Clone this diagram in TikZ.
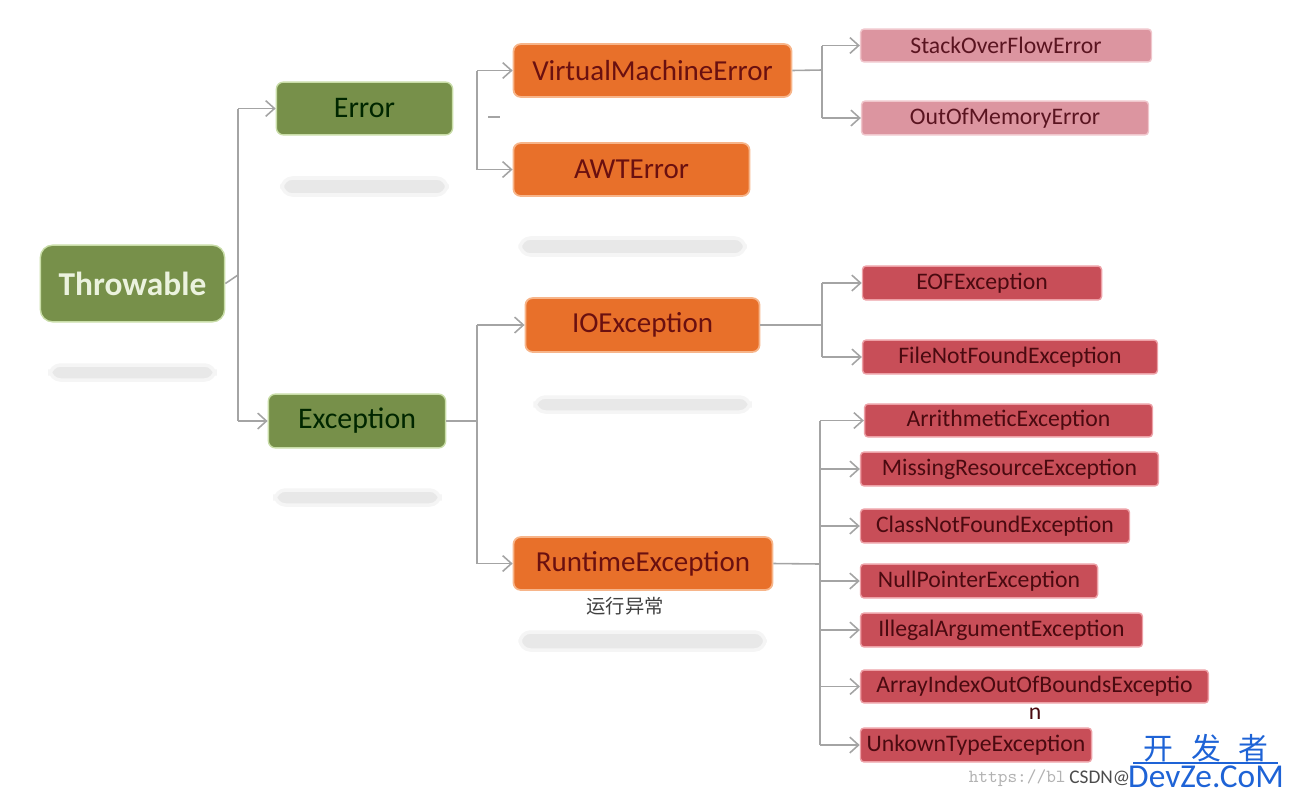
\documentclass[tikz,border=0pt]{standalone}
\usepackage{fontspec}
\setmainfont{Carlito}
\newfontfamily\cjk{Noto Sans CJK SC}
\usetikzlibrary{arrows.meta}
\definecolor{gfill}{HTML}{77904A}
\definecolor{gedge}{HTML}{C9DDA8}
\definecolor{ofill}{HTML}{E8702A}
\definecolor{oedge}{HTML}{F7B58A}
\definecolor{otext}{HTML}{6A1010}
\definecolor{pfill}{HTML}{DC95A0}
\definecolor{pedge}{HTML}{F0C6CC}
\definecolor{ptext}{HTML}{5A1420}
\definecolor{rfill}{HTML}{C84E58}
\definecolor{redge}{HTML}{EDA0A6}
\definecolor{rtext}{HTML}{4A0A10}
\definecolor{lcol}{HTML}{A4A4A4}
\definecolor{wblue}{HTML}{1E63D6}
\newcommand\bx[7]{\node[#6, minimum width={(#4-#2)*0.567pt}, minimum height={(#5-#3)*0.567pt}] (#1) at ({(#2+#4)/2},{(#3+#5)/2}) {#7};}
\tikzset{
  gbox/.style={fill=gfill, draw=gedge, line width=0.8pt, rounded corners=4pt, inner sep=0pt, text=black!85!green, font=\fontsize{17}{20}\selectfont},
  tbox/.style={gbox, rounded corners=7pt, text={rgb,255:red,235;green,242;blue,222}, font=\bfseries\fontsize{19}{22}\selectfont},
  obox/.style={fill=ofill, draw=oedge, line width=1pt, rounded corners=4pt, inner sep=0pt, text=otext, font=\fontsize{16.5}{20}\selectfont},
  pbox/.style={fill=pfill, draw=pedge, line width=0.8pt, rounded corners=2pt, inner sep=0pt, text=ptext, font=\fontsize{13.5}{16}\selectfont},
  rbox/.style={fill=rfill, draw=redge, line width=0.8pt, rounded corners=2pt, inner sep=0pt, text=rtext, font=\fontsize{13.5}{16}\selectfont},
  conn/.style={draw=lcol, line width=0.9pt},
  arr/.style={conn, -{Straight Barb[length=5pt,width=9pt]}},
  shade/.style={fill=black!9, draw=black!4, line width=2pt, rounded corners=6pt},
}
\begin{document}
\begin{tikzpicture}[x=0.02cm, y=-0.02cm]
\useasboundingbox (0,0) rectangle (1290,798);
% faint shadow bars
\path[shade] (50,365) rectangle (215,380);
\path[shade] (282,178) rectangle (447,195);
\path[shade] (520,238) rectangle (745,255);
\path[shade] (535,397) rectangle (750,412);
\path[shade] (275,490) rectangle (440,505);
\path[shade] (520,632) rectangle (765,650);
% nodes
\bx{thr}{40}{245}{225}{322}{tbox}{Throwable}
\bx{err}{276}{82}{453}{135}{gbox}{Error}
\bx{exc}{268}{394}{446}{448}{gbox}{Exception}
\bx{vme}{513}{44}{792}{97}{obox}{VirtualMachineError}
\bx{awt}{513}{143}{750}{196}{obox}{AWTError}
\bx{ioe}{525}{298}{760}{352}{obox}{IOException}
\bx{rte}{513}{537}{773}{590}{obox}{RuntimeException}
\bx{soe}{860}{29}{1152}{62}{pbox}{StackOverFlowError}
\bx{oom}{861}{101}{1149}{135}{pbox}{OutOfMemoryError}
\bx{eof}{862}{266}{1102}{300}{rbox}{EOFException}
\bx{fnf}{862}{340}{1158}{374}{rbox}{FileNotFoundException}
\bx{ari}{864}{404}{1153}{437}{rbox}{ArrithmeticException}
\bx{mis}{860}{452}{1159}{486}{rbox}{MissingResourceException}
\bx{cnf}{860}{509}{1130}{543}{rbox}{ClassNotFoundException}
\bx{npe}{860}{564}{1098}{598}{rbox}{NullPointerException}
\bx{iae}{860}{613}{1143}{647}{rbox}{IllegalArgumentException}
\bx{aio}{860}{670}{1209}{703}{rbox}{ArrayIndexOutOfBoundsExceptio}
\bx{ute}{860}{728}{1092}{762}{rbox}{UnkownTypeException}
\node[text=rtext, font=\fontsize{13.5}{16}\selectfont, inner sep=0pt] (nch) at (1035,714) {n};
\node[text=black!75, font=\cjk\fontsize{11}{13}\selectfont, inner sep=0pt] (cn) at (625,606) {运行异常};
% connectors: Throwable
\draw[conn] (thr.east) -- (238,275) coordinate (tj);
\draw[conn] (err.west -| tj) -- (exc.west -| tj);
\draw[arr] (err.west -| tj) -- (err.west);
\draw[arr] (exc.west -| tj) -- (exc.west);
% Error children
\coordinate (ej) at (477,117);
\draw[conn] (vme.west -| ej) -- (awt.west -| ej);
\draw[arr] (vme.west -| ej) -- (vme.west);
\draw[arr] (awt.west -| ej) -- (awt.west);
\draw[conn] (488,117) coordinate (d1) -- (500,117) coordinate (d2);
% VM children
\draw[conn] (vme.east) -- (822,70) coordinate (vj);
\draw[conn] (soe.west -| vj) -- (oom.west -| vj);
\draw[arr] (soe.west -| vj) -- (soe.west);
\draw[arr] (oom.west -| vj) -- (oom.west);
% Exception children
\draw[conn] (exc.east) -- (477,421) coordinate (xj);
\draw[conn] (ioe.west -| xj) -- (rte.west -| xj);
\draw[arr] (ioe.west -| xj) -- (ioe.west);
\draw[arr] (rte.west -| xj) -- (rte.west);
% IOException children
\draw[conn] (ioe.east) -- (822,325) coordinate (ij);
\draw[conn] (eof.west -| ij) -- (fnf.west -| ij);
\draw[arr] (eof.west -| ij) -- (eof.west);
\draw[arr] (fnf.west -| ij) -- (fnf.west);
% RuntimeException children
\draw[conn] (rte.east) -- (820,564) coordinate (rj);
\draw[conn] (ari.west -| rj) -- (ute.west -| rj);
\foreach \n in {ari,mis,cnf,npe,iae,aio,ute}{
  \draw[arr] (\n.west -| rj) -- (\n.west);
}
% watermark
\node[text=black!30, font=\ttfamily\fontsize{10.5}{13}\selectfont, inner sep=0pt, anchor=east] (url) at (1066,778) {https://bl};
\node[text=black!70, font=\fontsize{11}{13}\selectfont, inner sep=0pt, anchor=west] (csdn) at (1069,778) {CSDN@};
\node[text=wblue, font=\cjk\fontsize{17}{20}\selectfont, inner sep=0pt] (kfz) at (1206,748) {开\hspace{0.6em}发\hspace{0.6em}者};
\draw[wblue, line width=0.6pt] (1133,763) coordinate (u1) -- (1278,763) coordinate (u2);
\node[text=wblue, font=\fontsize{19}{22}\selectfont, inner sep=0pt] (dz) at (1206,777) {DevZe.CoM};
\end{tikzpicture}
\end{document}
